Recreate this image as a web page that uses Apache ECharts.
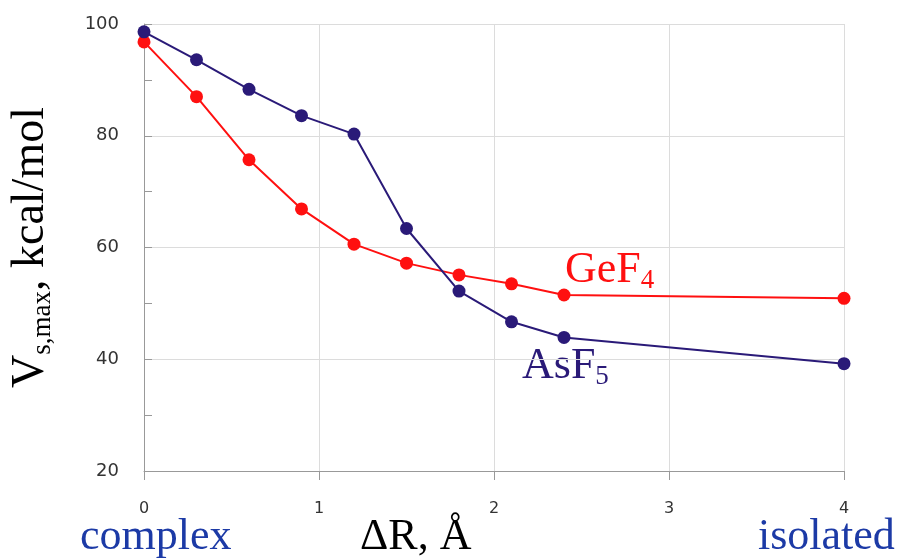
<!DOCTYPE html>
<html>
<head>
<meta charset="utf-8">
<script src="https://cdn.jsdelivr.net/npm/echarts@6/dist/echarts.min.js"></script>
<style>html,body{margin:0;padding:0;background:#fff}#c{width:903px;height:559px}</style>
</head>
<body>
<div id="c"></div>
<script>
const xValues = [0, 0.3, 0.6, 0.9, 1.2, 1.5, 1.8, 2.1, 2.4, 4];
const asf5 = [98.6, 93.6, 88.3, 83.6, 80.3, 63.4, 52.2, 46.7, 43.9, 39.2];
const gef4 = [96.8, 87.0, 75.7, 66.9, 60.6, 57.2, 55.1, 53.5, 51.5, 50.9];
const xTicks = [0, 1, 2, 3, 4];
const yTicks = [20, 40, 60, 80, 100];

const RED = '#ff1010';
const NAVY = '#2a1a78';
const BLUE = '#1c3aa6';
const serif = '"Liberation Serif", "Times New Roman", serif';

const chart = echarts.init(document.getElementById('c'), null, {renderer: 'canvas'});
chart.setOption({
  animation: false,
  backgroundColor: '#fff',
  grid: {left: 143, right: 59, top: 24, bottom: 88},
  xAxis: {
    type: 'value', min: xTicks[0], max: xTicks[xTicks.length - 1], interval: 1,
    axisLine: {lineStyle: {color: '#999', width: 1}},
    axisTick: {show: true, length: 9, lineStyle: {color: '#999'}},
    axisLabel: {margin: 30, color: '#333', fontSize: 16, fontFamily: '"DejaVu Sans", sans-serif'},
    splitLine: {show: true, lineStyle: {color: '#dcdcdc', width: 1}}
  },
  yAxis: {
    type: 'value', min: yTicks[0], max: yTicks[yTicks.length - 1], interval: 20,
    axisLine: {show: true, lineStyle: {color: '#999', width: 1}},
    axisTick: {show: true, inside: true, length: 8, lineStyle: {color: '#999'}},
    minorTick: {show: true, splitNumber: 2, length: 8, lineStyle: {color: '#999'}},
    axisLabel: {margin: 25, color: '#333', fontSize: 18, fontFamily: '"DejaVu Sans", sans-serif'},
    splitLine: {show: true, lineStyle: {color: '#dcdcdc', width: 1}},
    name: '{v|V}{s|s,max}{v|, kcal/mol}',
    nameLocation: 'middle', nameRotate: 90, nameGap: 88,
    nameTextStyle: {
      rich: {
        v: {fontSize: 46, fontFamily: serif, color: '#000', lineHeight: 50},
        s: {fontSize: 27, fontFamily: serif, color: '#000', verticalAlign: 'bottom', lineHeight: 50, padding: [14, 0, 0, 0]}
      }
    }
  },
  series: [
    {
      name: 'GeF4', type: 'line',
      data: xValues.map((x, i) => [x, gef4[i]]),
      symbol: 'circle', symbolSize: 13,
      lineStyle: {color: RED, width: 2},
      itemStyle: {color: RED}, z: 2
    },
    {
      name: 'AsF5', type: 'line',
      data: xValues.map((x, i) => [x, asf5[i]]),
      symbol: 'circle', symbolSize: 13,
      lineStyle: {color: NAVY, width: 2},
      itemStyle: {color: NAVY}, z: 3
    }
  ],
  graphic: [
    {type: 'text', left: 565, top: 248, style: {
      text: '{a|GeF}{b|4}',
      rich: {a: {fontSize: 44, fontFamily: serif, fill: RED}, b: {fontSize: 27, fontFamily: serif, fill: RED, padding: [22, 0, 0, 0]}}
    }},
    {type: 'text', left: 522, top: 344, style: {
      text: '{a|AsF}{b|5}',
      rich: {a: {fontSize: 44, fontFamily: serif, fill: NAVY}, b: {fontSize: 27, fontFamily: serif, fill: NAVY, padding: [22, 0, 0, 0]}}
    }},
    {type: 'text', left: 80, top: 515, style: {text: 'complex', font: '44px ' + serif, fill: BLUE}},
    {type: 'text', left: 360, top: 515, style: {text: 'ΔR, Å', font: '44px ' + serif, fill: '#000'}},
    {type: 'text', left: 758, top: 515, style: {text: 'isolated', font: '44px ' + serif, fill: BLUE}}
  ]
});
</script>
</body>
</html>
